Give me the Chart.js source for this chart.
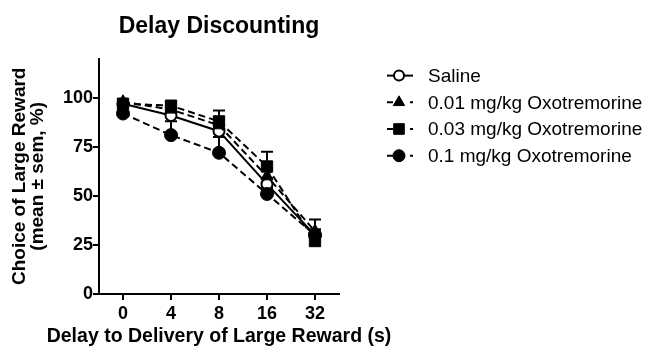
<!DOCTYPE html>
<html>
<head>
<meta charset="utf-8">
<script src="https://cdn.jsdelivr.net/npm/chart.js@4/dist/chart.umd.min.js"></script>
<style>
  html, body { margin: 0; padding: 0; background: #fff; }
  #wrap { width: 646px; height: 349px; position: relative; }
</style>
</head>
<body>
<div id="wrap"><canvas id="chart"></canvas></div>
<script>
// Delay (s) before the large reward is delivered
const delays = ['0', '4', '8', '16', '32'];
const yTickValues = [0, 25, 50, 75, 100];

// Mean choice of the large reward (%) per group
const saline = [97, 91, 83, 56, 30];
const oxo001 = [98, 94, 86, 60, 32];
const oxo003 = [97, 96, 88, 65, 27];
const oxo01  = [92, 81, 72, 51, 30];

// SEM per group (drawn upward only)
const salineSem = [1, 2, 3, 3, 3];
const oxo001Sem = [1, 1.5, 3, 4, 6];
const oxo003Sem = [1, 1.5, 5.5, 7.5, 3];
const oxo01Sem  = [1.5, 7, 8, 3, 2];

const seriesNames = ['Saline', '0.01 mg/kg Oxotremorine', '0.03 mg/kg Oxotremorine', '0.1 mg/kg Oxotremorine'];
const xTitle = 'Delay to Delivery of Large Reward (s)';

const FONT = "'Liberation Sans', Arial, Helvetica, sans-serif";
const DASH = [7, 4];

function series(label, data, sem, style, radius, fill, dashed, keyRadius, order) {
  return {
    label, data, sem, order,
    borderColor: '#000',
    borderWidth: 2,
    borderDash: dashed ? DASH : [],
    tension: 0,
    fill: false,
    pointStyle: style,
    pointRadius: radius,
    pointHoverRadius: radius,
    pointBackgroundColor: fill,
    pointBorderColor: '#000',
    pointBorderWidth: fill === '#fff' ? 2 : 1,
    keyRadius
  };
}

// Upward SEM whiskers with caps, drawn beneath the lines and markers
const semBars = {
  id: 'semBars',
  beforeDatasetsDraw(chart) {
    const ctx = chart.ctx;
    const y = chart.scales.y;
    ctx.save();
    ctx.strokeStyle = '#000';
    ctx.lineWidth = 2;
    ctx.setLineDash([]);
    chart.data.datasets.forEach((ds, di) => {
      const meta = chart.getDatasetMeta(di);
      meta.data.forEach((pt, i) => {
        const top = y.getPixelForValue(ds.data[i] + ds.sem[i]);
        ctx.beginPath();
        ctx.moveTo(pt.x, pt.y);
        ctx.lineTo(pt.x, top);
        ctx.moveTo(pt.x - 6, top);
        ctx.lineTo(pt.x + 6, top);
        ctx.stroke();
      });
    });
    ctx.restore();
  }
};

// Horizontal axis title, centred under the plot
const xAxisTitle = {
  id: 'xAxisTitle',
  afterDraw(chart) {
    const ctx = chart.ctx;
    const area = chart.chartArea;
    ctx.save();
    ctx.fillStyle = '#000';
    ctx.font = 'bold 19.5px ' + FONT;
    ctx.textAlign = 'center';
    ctx.textBaseline = 'middle';
    ctx.fillText(xTitle, (area.left + area.right) / 2, chart.scales.x.bottom - 12);
    ctx.restore();
  }
};

// Key to the right of the plot: line sample, marker, group name
const seriesKey = {
  id: 'seriesKey',
  afterDraw(chart) {
    const ctx = chart.ctx;
    const area = chart.chartArea;
    const cx = area.right + 60;
    const tx = area.right + 89;
    ctx.save();
    chart.data.datasets.forEach((ds, i) => {
      const cy = area.top + 17 + i * 26.7;
      ctx.strokeStyle = '#000';
      ctx.lineWidth = 2;
      ctx.setLineDash([]);
      ctx.beginPath();
      if (ds.borderDash.length) {
        ctx.moveTo(cx - 12, cy); ctx.lineTo(cx - 6, cy);
        ctx.moveTo(cx + 11, cy); ctx.lineTo(cx + 14, cy);
      } else {
        ctx.moveTo(cx - 12, cy); ctx.lineTo(cx + 14, cy);
      }
      ctx.stroke();
      ctx.fillStyle = ds.pointBackgroundColor;
      ctx.lineWidth = ds.pointBorderWidth;
      Chart.helpers.drawPoint(ctx, {
        pointStyle: ds.pointStyle, rotation: 0,
        radius: ds.keyRadius, borderWidth: ds.pointBorderWidth
      }, cx, cy);
      ctx.fillStyle = '#000';
      ctx.font = '19px ' + FONT;
      ctx.textAlign = 'left';
      ctx.textBaseline = 'middle';
      ctx.fillText(ds.label, tx, cy + 1);
    });
    ctx.restore();
  }
};

const axisCommon = {
  grid: { drawOnChartArea: false, drawTicks: true, tickLength: 6, color: '#000', lineWidth: 2 },
  border: { display: true, color: '#000', width: 2 }
};

new Chart(document.getElementById('chart'), {
  type: 'line',
  data: {
    labels: delays,
    datasets: [
      series(seriesNames[0], saline, salineSem, 'circle', 5.5, '#fff', false, 5, 3),
      series(seriesNames[1], oxo001, oxo001Sem, 'triangle', 7, '#000', true, 6.5, 2),
      series(seriesNames[2], oxo003, oxo003Sem, 'rect', 8, '#000', true, 7.5, 1),
      series(seriesNames[3], oxo01, oxo01Sem, 'circle', 6.5, '#000', true, 6, 0)
    ]
  },
  plugins: [semBars, seriesKey, xAxisTitle],
  options: {
    responsive: true,
    maintainAspectRatio: false,
    animation: false,
    events: [],
    layout: { padding: { left: 0, right: 307, top: 0, bottom: 0 } },
    plugins: {
      legend: { display: false },
      tooltip: { enabled: false },
      title: {
        display: true,
        text: 'Delay Discounting',
        fullSize: false,
        color: '#000',
        font: { family: FONT, size: 23, weight: 'bold' },
        padding: { top: 13, bottom: 18 }
      }
    },
    scales: {
      x: {
        type: 'category',
        offset: true,
        ...axisCommon,
        ticks: { color: '#000', font: { family: FONT, size: 18, weight: 'bold' }, padding: 3, maxRotation: 0 },
        title: { display: false },
        afterFit(scale) { scale.height = 55; }
      },
      y: {
        min: 0,
        max: 120,
        ...axisCommon,
        afterBuildTicks(scale) { scale.ticks = yTickValues.map(v => ({ value: v })); },
        ticks: { color: '#000', font: { family: FONT, size: 18, weight: 'bold' }, padding: 0 },
        title: {
          display: true,
          text: ['Choice of Large Reward', '(mean \u00B1 sem, %)'],
          color: '#000',
          font: { family: FONT, size: 19, weight: 'bold', lineHeight: '18px' },
          padding: { top: 11, bottom: 0 }
        },
        afterFit(scale) { scale.width = 99; }
      }
    }
  }
});
</script>
</body>
</html>
